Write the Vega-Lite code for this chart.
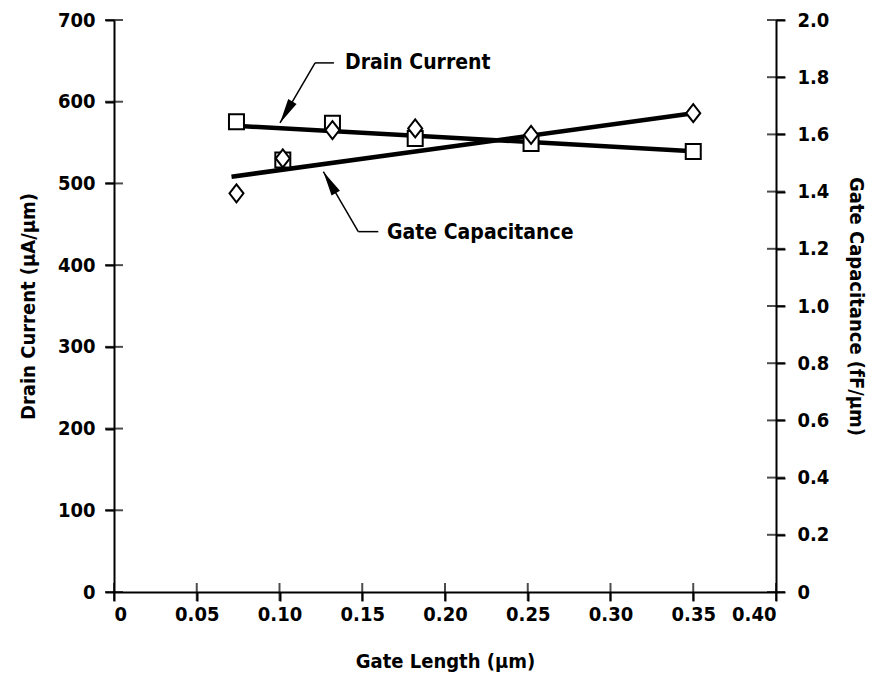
{
  "$schema": "https://vega.github.io/schema/vega-lite/v6.json",
  "width": 662,
  "height": 572,
  "autosize": {"type": "none"},
  "padding": {"left": 114, "top": 20, "right": 97, "bottom": 89},
  "background": "white",
  "config": {
    "view": {"stroke": null},
    "font": "DejaVu Sans Condensed",
    "axis": {
      "labelFont": "DejaVu Sans Condensed",
      "labelFontWeight": "bold",
      "labelFontSize": 20,
      "labelColor": "black",
      "titleFont": "DejaVu Sans Condensed",
      "titleFontWeight": "bold",
      "titleFontSize": 20,
      "titleColor": "black",
      "domainColor": "black",
      "domainWidth": 2,
      "tickColor": "black",
      "tickWidth": 2,
      "tickSize": 9,
      "grid": false
    }
  },
  "datasets": {
    "drain": [
      {"len": 0.074, "val": 575.5},
      {"len": 0.102, "val": 528.7},
      {"len": 0.132, "val": 573.5},
      {"len": 0.182, "val": 555},
      {"len": 0.252, "val": 549},
      {"len": 0.35, "val": 539}
    ],
    "gate": [
      {"len": 0.074, "val": 1.394},
      {"len": 0.102, "val": 1.516},
      {"len": 0.132, "val": 1.615},
      {"len": 0.182, "val": 1.621},
      {"len": 0.252, "val": 1.598},
      {"len": 0.35, "val": 1.674}
    ],
    "drainfit": [{"len": 0.076, "val": 570.3}, {"len": 0.35, "val": 539.5}],
    "gatefit": [{"len": 0.071, "val": 1.452}, {"len": 0.35, "val": 1.674}],
    "leftticks": [{"v": 0}, {"v": 100}, {"v": 200}, {"v": 300}, {"v": 400}, {"v": 500}, {"v": 600}, {"v": 700}],
    "rightticks": [{"v": 0}, {"v": 0.2}, {"v": 0.4}, {"v": 0.6}, {"v": 0.8}, {"v": 1.0}, {"v": 1.2}, {"v": 1.4}, {"v": 1.6}, {"v": 1.8}, {"v": 2.0}],
    "xticks": [{"v": 0}, {"v": 0.05}, {"v": 0.1}, {"v": 0.15}, {"v": 0.2}, {"v": 0.25}, {"v": 0.3}, {"v": 0.35}, {"v": 0.4}],
    "leaders": [
      {"x": 0.1215, "y": 647.5, "x2": 0.1329, "y2": 647.5},
      {"x": 0.1215, "y": 647.5, "x2": 0.1003, "y2": 574},
      {"x": 0.1265, "y": 514.4, "x2": 0.1476, "y2": 441},
      {"x": 0.1476, "y": 441, "x2": 0.1597, "y2": 441}
    ],
    "labels": [
      {"x": 0.1396, "y": 647.5, "text": "Drain Current"},
      {"x": 0.165, "y": 439, "text": "Gate Capacitance"}
    ]
  },
  "resolve": {"scale": {"y": "independent"}, "axis": {"y": "independent"}},
  "layer": [
    {
      "layer": [
        {
          "data": {"name": "drainfit"},
          "mark": {"type": "line", "color": "black", "strokeWidth": 4.5},
          "encoding": {
            "x": {"field": "len", "type": "quantitative", "scale": {"domain": [0, 0.4], "nice": false},
              "axis": {"orient": "bottom", "values": [0, 0.05, 0.1, 0.15, 0.2, 0.25, 0.3, 0.35, 0.4],
                "labelExpr": "datum.value == 0 ? '0' : format(datum.value, '.2f')",
                "labelPadding": 3, "title": "Gate Length (µm)", "titlePadding": 27}},
            "y": {"field": "val", "type": "quantitative", "scale": {"domain": [0, 700], "nice": false},
              "axis": {"orient": "left", "values": [0, 100, 200, 300, 400, 500, 600, 700],
                "labelPadding": 10, "title": "Drain Current (µA/µm)", "titlePadding": 19}}
          }
        },
        {
          "data": {"name": "leftticks"},
          "mark": {"type": "tick", "orient": "horizontal", "color": "black", "size": 18, "thickness": 2},
          "encoding": {
            "x": {"datum": 0, "type": "quantitative"},
            "y": {"field": "v", "type": "quantitative"}
          }
        },
        {
          "data": {"name": "xticks"},
          "mark": {"type": "tick", "orient": "vertical", "color": "black", "size": 18, "thickness": 2},
          "encoding": {
            "x": {"field": "v", "type": "quantitative"},
            "y": {"datum": 0, "type": "quantitative"}
          }
        },
        {
          "data": {"name": "leaders"},
          "mark": {"type": "rule", "color": "black", "strokeWidth": 1.5},
          "encoding": {
            "x": {"field": "x", "type": "quantitative"},
            "y": {"field": "y", "type": "quantitative"},
            "x2": {"field": "x2"},
            "y2": {"field": "y2"}
          }
        },
        {
          "data": {"values": [{"x": 0.1003, "y": 574}]},
          "mark": {"type": "point", "shape": "M0,0L-0.7,3.6L0.7,3.6Z", "filled": true, "color": "black", "opacity": 1, "size": 190, "angle": 210},
          "encoding": {
            "x": {"field": "x", "type": "quantitative"},
            "y": {"field": "y", "type": "quantitative"}
          }
        },
        {
          "data": {"values": [{"x": 0.1265, "y": 514.4}]},
          "mark": {"type": "point", "shape": "M0,0L-0.7,3.6L0.7,3.6Z", "filled": true, "color": "black", "opacity": 1, "size": 190, "angle": 330},
          "encoding": {
            "x": {"field": "x", "type": "quantitative"},
            "y": {"field": "y", "type": "quantitative"}
          }
        },
        {
          "data": {"name": "labels"},
          "mark": {"type": "text", "align": "left", "baseline": "middle", "font": "DejaVu Sans Condensed", "fontWeight": "bold", "fontSize": 21, "color": "black"},
          "encoding": {
            "x": {"field": "x", "type": "quantitative"},
            "y": {"field": "y", "type": "quantitative"},
            "text": {"field": "text"}
          }
        }
      ]
    },
    {
      "layer": [
        {
          "data": {"name": "gatefit"},
          "mark": {"type": "line", "color": "black", "strokeWidth": 4.5},
          "encoding": {
            "x": {"field": "len", "type": "quantitative"},
            "y": {"field": "val", "type": "quantitative", "scale": {"domain": [0, 2], "nice": false},
              "axis": {"orient": "right", "values": [0, 0.2, 0.4, 0.6, 0.8, 1.0, 1.2, 1.4, 1.6, 1.8, 2.0],
                "labelExpr": "datum.value == 0 ? '0' : format(datum.value, '.1f')",
                "labelPadding": 12, "title": "Gate Capacitance (fF/µm)", "titlePadding": 17}}
          }
        },
        {
          "data": {"name": "rightticks"},
          "mark": {"type": "tick", "orient": "horizontal", "color": "black", "size": 18, "thickness": 2},
          "encoding": {
            "x": {"datum": 0.4, "type": "quantitative"},
            "y": {"field": "v", "type": "quantitative"}
          }
        }
      ]
    },
    {
      "data": {"name": "drain"},
      "mark": {"type": "point", "shape": "square", "filled": true, "fill": "white", "stroke": "black", "strokeWidth": 2, "opacity": 1, "size": 225},
      "encoding": {
        "x": {"field": "len", "type": "quantitative"},
        "y": {"field": "val", "type": "quantitative", "scale": {"domain": [0, 700], "nice": false}, "axis": null}
      }
    },
    {
      "data": {"name": "gate"},
      "mark": {"type": "point", "shape": "M-0.78,0L0,-1L0.78,0L0,1Z", "filled": true, "fill": "white", "stroke": "black", "strokeWidth": 2, "opacity": 1, "size": 324},
      "encoding": {
        "x": {"field": "len", "type": "quantitative"},
        "y": {"field": "val", "type": "quantitative", "scale": {"domain": [0, 2], "nice": false}, "axis": null}
      }
    }
  ]
}
